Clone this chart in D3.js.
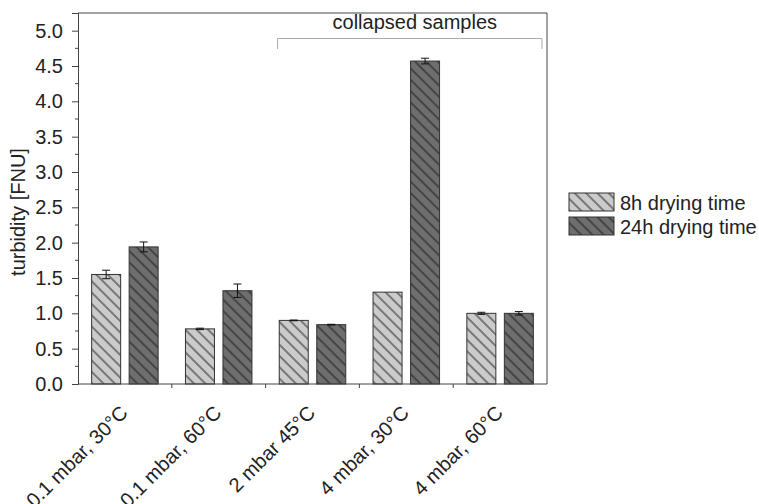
<!DOCTYPE html>
<html>
<head>
<meta charset="utf-8">
<script src="https://cdn.jsdelivr.net/npm/d3@7"></script>
<style>
  body { margin: 0; background: #fff; }
  svg text { font-family: Arial, "Liberation Sans", sans-serif; fill: #222; }
</style>
</head>
<body>
<div id="chart"></div>
<script>
const categories = ["0.1 mbar, 30°C", "0.1 mbar, 60°C", "2 mbar 45°C", "4 mbar, 30°C", "4 mbar, 60°C"];
const series = ["8h drying time", "24h drying time"];
const values8h = [1.55, 0.78, 0.90, 1.30, 1.00];
const errors8h = [0.06, 0.01, 0.005, 0.0, 0.015];
const values24h = [1.94, 1.32, 0.84, 4.57, 1.00];
const errors24h = [0.07, 0.095, 0.005, 0.04, 0.025];
const yTicks = [0, 0.5, 1, 1.5, 2, 2.5, 3, 3.5, 4, 4.5, 5];
const collapsed = ["2 mbar 45°C", "4 mbar, 60°C"];

const width = 759, height = 504;
const margin = { top: 13, right: 212, bottom: 120, left: 78 };
const innerW = width - margin.left - margin.right;
const innerH = height - margin.top - margin.bottom;

const colors = ["#cbcbcb", "#6e6e6e"];
const fs = "20px";

const svg = d3.select("#chart").append("svg")
  .attr("width", width).attr("height", height);

const defs = svg.append("defs");
colors.forEach((c, i) => {
  const p = defs.append("pattern")
    .attr("id", "hatch" + i)
    .attr("patternUnits", "userSpaceOnUse")
    .attr("width", 8).attr("height", 8)
    .attr("patternTransform", "rotate(45)");
  p.append("rect").attr("width", 8).attr("height", 8).attr("fill", c);
  p.append("line").attr("x1", 0).attr("x2", 8).attr("y1", 4).attr("y2", 4)
    .attr("stroke", "#111").attr("stroke-width", 0.9);
});

const g = svg.append("g").attr("transform", `translate(${margin.left},${margin.top})`);

const x = d3.scaleBand().domain(categories).range([0, innerW]).padding(0);
const y = d3.scaleLinear().domain([0, 5.25]).range([innerH, 0]);

const barW = 29, offset = 18.75;

const data = categories.flatMap((c, i) => [
  { cat: c, s: 0, v: values8h[i], e: errors8h[i] },
  { cat: c, s: 1, v: values24h[i], e: errors24h[i] }
]);

g.selectAll("rect.bar").data(data).join("rect")
  .attr("class", "bar")
  .attr("x", d => x(d.cat) + x.bandwidth() / 2 + (d.s === 0 ? -offset : offset) - barW / 2)
  .attr("width", barW)
  .attr("y", d => y(d.v))
  .attr("height", d => y(0) - y(d.v))
  .attr("fill", d => `url(#hatch${d.s})`)
  .attr("stroke", "#333").attr("stroke-width", 1);

// error bars
const eb = g.selectAll("g.err").data(data.filter(d => d.e > 0)).join("g").attr("class", "err")
  .attr("transform", d => `translate(${x(d.cat) + x.bandwidth() / 2 + (d.s === 0 ? -offset : offset)},0)`);
eb.append("line").attr("y1", d => y(d.v - d.e)).attr("y2", d => y(d.v + d.e))
  .attr("stroke", "#111");
eb.append("line").attr("x1", -4).attr("x2", 4).attr("y1", d => y(d.v + d.e)).attr("y2", d => y(d.v + d.e))
  .attr("stroke", "#111");
eb.append("line").attr("x1", -4).attr("x2", 4).attr("y1", d => y(d.v - d.e)).attr("y2", d => y(d.v - d.e))
  .attr("stroke", "#111");

// frame
g.append("line").attr("x1", 0).attr("x2", innerW).attr("y1", 0).attr("y2", 0).attr("stroke", "#444");
g.append("line").attr("x1", innerW).attr("x2", innerW).attr("y1", 0).attr("y2", innerH).attr("stroke", "#444");

// y axis
const yAxis = g.append("g")
  .call(d3.axisLeft(y).tickValues(yTicks).tickFormat(d3.format(".1f")).tickSize(6).tickPadding(9));
yAxis.select(".domain").attr("stroke", "#444");
yAxis.selectAll(".tick line").attr("stroke", "#444");
yAxis.selectAll("text").style("font-size", fs).attr("fill", "#222");
const minor = d3.range(0.25, 5.25, 0.5);
g.append("g").selectAll("line").data(minor).join("line")
  .attr("x1", -3).attr("x2", 0).attr("y1", d => y(d)).attr("y2", d => y(d))
  .attr("stroke", "#444");

// x axis: ticks at band boundaries
g.append("line").attr("x1", 0).attr("x2", innerW).attr("y1", innerH).attr("y2", innerH).attr("stroke", "#444");
g.append("g").selectAll("line").data(categories.slice(1)).join("line")
  .attr("x1", d => x(d)).attr("x2", d => x(d))
  .attr("y1", innerH).attr("y2", innerH + 4).attr("stroke", "#444");
g.append("g").selectAll("text").data(categories).join("text")
  .attr("transform", d => `translate(${x(d) + x.bandwidth() / 2 + 4},${innerH + 30}) rotate(-45)`)
  .attr("text-anchor", "end")
  .style("font-size", fs)
  .text(d => d);

// y label
g.append("text")
  .attr("transform", `translate(${-53},${199}) rotate(-90)`)
  .attr("text-anchor", "middle")
  .style("font-size", fs)
  .text("turbidity [FNU]");

// collapsed bracket
const bx0 = x(collapsed[0]) + 12;
const bx1 = x(collapsed[1]) + x.bandwidth() - 5;
g.append("path")
  .attr("d", `M${bx0},${36} L${bx0},${25.5} L${bx1},${25.5} L${bx1},${36}`)
  .attr("fill", "none").attr("stroke", "#aaa");
g.append("text")
  .attr("x", (bx0 + bx1) / 2 + 5).attr("y", 16)
  .attr("text-anchor", "middle")
  .style("font-size", fs)
  .text("collapsed samples");

// legend
const leg = svg.append("g").attr("transform", "translate(569,193)");
series.forEach((s, i) => {
  const r = leg.append("g").attr("transform", `translate(0,${i * 24})`);
  r.append("rect").attr("width", 45).attr("height", 18)
    .attr("fill", `url(#hatch${i})`).attr("stroke", "#333");
  r.append("text").attr("x", 51).attr("y", 17).style("font-size", fs).text(s);
});
</script>
</body>
</html>
